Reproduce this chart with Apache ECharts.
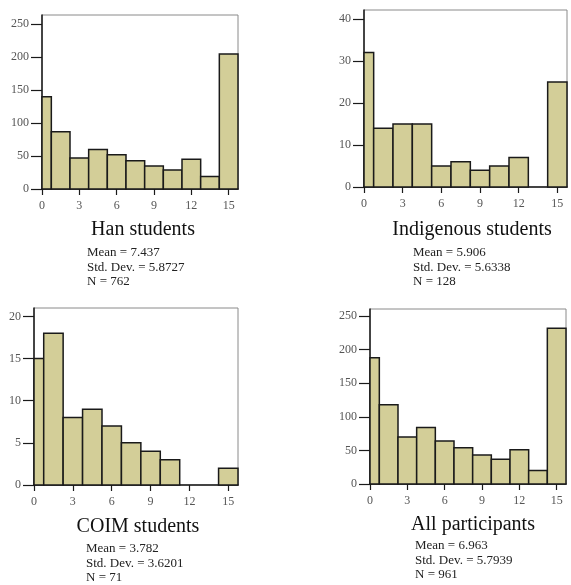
<!DOCTYPE html>
<html>
<head>
<meta charset="utf-8">
<script src="https://cdn.jsdelivr.net/npm/echarts@6/dist/echarts.min.js"></script>
<style>
  html, body { margin: 0; padding: 0; background: #fff; }
  #chart { width: 571px; height: 585px; }
</style>
</head>
<body>
<div id="chart"></div>
<script>
// histogram bins (centre of each bin), all panels share them
const bins = [0, 1.5, 3, 4.5, 6, 7.5, 9, 10.5, 12, 13.5, 15];
const binWidth = 1.5;

const hanCounts = [140, 87, 47, 60, 52, 43, 35, 29, 45, 19, 205];
const indigenousCounts = [32, 14, 15, 15, 5, 6, 4, 5, 7, 0, 25];
const coimCounts = [15, 18, 8, 9, 7, 5, 4, 3, 0, 0, 2];
const allCounts = [188, 118, 70, 84, 64, 54, 43, 37, 51, 20, 232];

const xTicks = [0, 3, 6, 9, 12, 15];
const yTicksHan = [0, 50, 100, 150, 200, 250];
const yTicksIndigenous = [0, 10, 20, 30, 40];
const yTicksCoim = [0, 5, 10, 15, 20];
const yTicksAll = [0, 50, 100, 150, 200, 250];

const titles = ['Han students', 'Indigenous students', 'COIM students', 'All participants'];
const hanStats = ['Mean = 7.437', 'Std. Dev. = 5.8727', 'N = 762'];
const indigenousStats = ['Mean = 5.906', 'Std. Dev. = 5.6338', 'N = 128'];
const coimStats = ['Mean = 3.782', 'Std. Dev. = 3.6201', 'N = 71'];
const allStats = ['Mean = 6.963', 'Std. Dev. = 5.7939', 'N = 961'];

const SERIF = '"Liberation Serif", "DejaVu Serif", serif';
const FILL = '#d3ce98';

// layout of each panel (pixels)
const panels = [
  { counts: hanCounts, yTicks: yTicksHan, yMax: 264, stats: hanStats,
    grid: { left: 42, top: 15, width: 196, height: 174 },
    title: [143, 230], statPos: [87, 253] },
  { counts: indigenousCounts, yTicks: yTicksIndigenous, yMax: 42.1, stats: indigenousStats,
    grid: { left: 364, top: 10, width: 203, height: 177 },
    title: [472, 230], statPos: [413, 253] },
  { counts: coimCounts, yTicks: yTicksCoim, yMax: 21, stats: coimStats,
    grid: { left: 34, top: 308, width: 204, height: 177 },
    title: [138, 527], statPos: [86, 549] },
  { counts: allCounts, yTicks: yTicksAll, yMax: 260.5, stats: allStats,
    grid: { left: 370, top: 309, width: 196, height: 175 },
    title: [473, 525], statPos: [415, 546] }
];

function renderBar(params, api) {
  const c = api.value(0);
  const n = api.value(1);
  if (!n) return null;
  const p0 = api.coord([c - binWidth / 2, n]);
  const p1 = api.coord([c + binWidth / 2, 0]);
  const cs = params.coordSys;
  const rect = echarts.graphic.clipRectByRect(
    { x: p0[0], y: p0[1], width: p1[0] - p0[0], height: p1[1] - p0[1] },
    { x: cs.x, y: cs.y, width: cs.width + 1, height: cs.height }
  );
  return rect && {
    type: 'rect',
    shape: rect,
    style: { fill: FILL, stroke: '#1a1a1a', lineWidth: 1.5 }
  };
}

const chart = echarts.init(document.getElementById('chart'));

const grid = [], xAxis = [], yAxis = [], series = [], graphic = [];
panels.forEach((p, i) => {
  grid.push(Object.assign({
    show: true, borderColor: '#8a8a8a', borderWidth: 1, backgroundColor: 'transparent'
  }, p.grid));
  xAxis.push({
    type: 'value', gridIndex: i, min: 0, max: 15.75,
    axisLine: { lineStyle: { color: '#1a1a1a', width: 1.5 } },
    axisTick: { length: 6, customValues: xTicks, lineStyle: { color: '#1a1a1a', width: 1.2 } },
    axisLabel: { customValues: xTicks, margin: 11, color: '#555', fontFamily: SERIF, fontSize: 12 },
    splitLine: { show: false }
  });
  yAxis.push({
    type: 'value', gridIndex: i, min: 0, max: p.yMax,
    axisLine: { show: true, lineStyle: { color: '#1a1a1a', width: 1.5 } },
    axisTick: { show: true, length: 11, customValues: p.yTicks, lineStyle: { color: '#1a1a1a', width: 1.2 } },
    axisLabel: { customValues: p.yTicks, margin: 13, color: '#555', fontFamily: SERIF, fontSize: 12 },
    splitLine: { show: false }
  });
  series.push({
    type: 'custom', xAxisIndex: i, yAxisIndex: i,
    renderItem: renderBar,
    data: bins.map((b, k) => [b, p.counts[k]])
  });
  graphic.push({
    type: 'text', x: p.title[0], y: p.title[1],
    style: { text: titles[i], font: '20px ' + SERIF, fill: '#111', align: 'center', verticalAlign: 'middle' }
  });
  p.stats.forEach((line, k) => {
    graphic.push({
      type: 'text', x: p.statPos[0], y: p.statPos[1] + k * 14.5,
      style: { text: line, font: '13px ' + SERIF, fill: '#222', align: 'left', verticalAlign: 'middle' }
    });
  });
});

chart.setOption({
  animation: false,
  backgroundColor: '#fff',
  grid, xAxis, yAxis, series, graphic
});
</script>
</body>
</html>
